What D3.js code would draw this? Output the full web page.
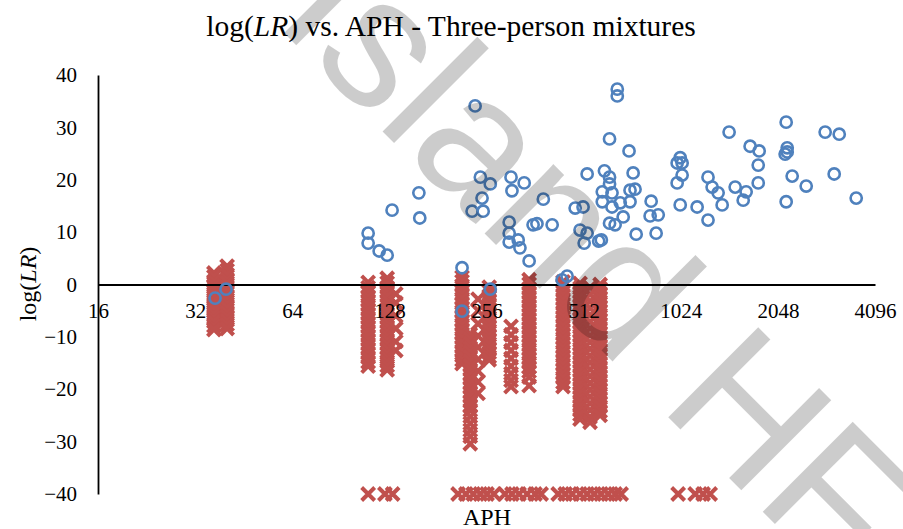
<!DOCTYPE html>
<html>
<head>
<meta charset="utf-8">
<script src="https://cdn.jsdelivr.net/npm/d3@7"></script>
<style>
  body { margin: 0; background: #fff; }
  svg { display: block; }
</style>
</head>
<body>
<svg id="chart" width="903" height="529"></svg>
<script>
// Blue circles: one log(LR) per APH
const blueAPH = [36.9, 39.9, 110, 110, 119, 126, 130.5, 158, 159, 236, 245, 263, 248, 231, 250,
  305, 307, 335, 384, 301, 301, 301, 321, 325, 347, 357, 367, 409, 482, 510, 525, 616, 708,
  651, 651, 594, 616, 616, 585, 627, 713, 739, 713, 665, 585, 627, 679, 616, 641, 581, 745,
  829, 823, 872, 859, 1020, 1034, 998, 1034, 998, 1020, 1151, 1244, 1281, 1337, 1376, 1244,
  1446, 1510, 1599, 1633, 1680, 1792, 1780, 1780, 2173, 2189, 2157, 2189, 2268, 2173, 2507,
  2870, 3173, 3061, 3582, 215, 263, 215, 439, 455, 499, 525, 514, 570, 729];
const blueLR = [-2.6, -0.9, 9.8, 7.9, 6.4, 5.6, 14.2, 17.5, 12.7, 34.1, 20.5, 19.2, 16.5, 14.0, 14.0,
  20.5, 17.9, 19.4, 16.3, 11.9, 9.8, 8.1, 8.5, 7.0, 4.5, 11.4, 11.6, 11.4, 14.6, 14.8, 21.1, 27.8, 25.5,
  37.3, 36.0, 21.7, 20.5, 19.2, 17.7, 17.5, 18.0, 18.2, 15.8, 15.6, 15.8, 14.8, 12.9, 11.7, 11.4, 8.5, 9.6,
  15.9, 13.1, 13.3, 9.8, 24.2, 23.2, 23.2, 20.9, 19.4, 15.2, 14.8, 20.5, 18.6, 17.5, 15.2, 12.3,
  29.1, 18.6, 16.1, 17.7, 26.4, 25.5, 22.8, 19.4, 31.0, 26.1, 24.9, 25.3, 20.7, 15.8, 18.8,
  29.1, 28.7, 21.1, 16.5, 3.2, -0.9, -5.1, 0.9, 1.6, 10.4, 9.8, 7.9, 8.3, 21.3];

// Red crosses: columns of log(LR) values sharing one APH
const red37 = [2.2, 1.5, 0.6, -0.2, -1.0, -1.8, -2.5, -3.3, -4.1, -4.8, -5.6, -6.4, -7.1, -7.9, -8.6];
const red40 = [3.5, 2.7, 1.9, 1.0, 0.3, -0.5, -1.3, -2.2, -2.9, -3.7, -4.4, -5.3, -6.1, -6.8, -7.6, -8.4];
const red110 = [0.4, -0.6, -1.4, -2.3, -3.1, -3.9, -4.8, -5.6, -6.4, -7.3, -8.1, -8.9, -9.8, -10.6,
  -11.4, -12.3, -13.1, -13.9, -14.8, -15.6];
const red126 = [1.2, 0.3, -0.6, -1.4, -2.2, -3.1, -3.9, -4.7, -5.6, -6.4, -7.2, -8.1, -8.9, -9.7,
  -10.6, -11.4, -12.2, -13.1, -13.9, -14.7, -15.5, -16.3];
const red134 = [-1.8, -3.5, -6.0, -8.4, -10.9, -12.6];
const red215 = [1.4, 0.6, -0.2, -1.1, -1.9, -2.7, -3.6, -4.4, -5.2, -6.1, -6.9, -7.7, -8.6, -9.4,
  -10.2, -11.1, -11.9, -12.7, -13.6, -14.4, -15.1];
const red228 = [-9.5, -10.4, -11.2, -12.1, -12.9, -13.8, -14.6, -15.5, -16.3, -17.2, -18.0, -18.9,
  -19.7, -20.6, -21.4, -22.3, -23.1, -24.0, -25.2, -26.5, -27.8, -29.0, -30.4];
const red241 = [-2.8, -5.0, -7.5, -9.8, -12.0, -14.3, -16.5, -18.6, -20.8];
const red261 = [-0.5, -1.3, -2.2, -3.0, -3.8, -4.7, -5.5, -6.3, -7.2, -8.0, -8.8, -9.7, -10.5,
  -11.3, -12.2, -13.0, -13.8, -14.4];
const red305 = [-8.0, -9.6, -11.1, -12.6, -14.1, -15.6, -17.0, -18.3, -19.5];
const red347 = [0.9, 0.1, -0.8, -1.6, -2.4, -3.3, -4.1, -4.9, -5.8, -6.6, -7.4, -8.3, -9.1, -9.9,
  -10.8, -11.6, -12.4, -13.3, -14.1, -14.9, -15.8, -16.6, -17.7, -19.3];
const red442 = [0.5, -0.3, -1.2, -2.0, -2.8, -3.7, -4.5, -5.3, -6.2, -7.0, -7.8, -8.7, -9.5, -10.3,
  -11.2, -12.0, -12.8, -13.7, -14.5, -15.3, -16.2, -17.0, -17.8, -18.7, -19.5];
const red499 = [0.2, -0.7, -1.5, -2.3, -3.2, -4.0, -4.8, -5.7, -6.5, -7.3, -8.2, -9.0, -9.8, -10.7,
  -11.5, -12.3, -13.2, -14.0, -14.8, -15.7, -16.5, -17.3, -18.2, -19.0, -19.8, -20.7, -21.5,
  -22.3, -23.2, -24.0, -24.8, -25.7];
const red536 = [-0.6, -1.9, -3.2, -4.5, -5.8, -7.1, -8.4, -9.7, -11.0, -12.3, -13.6, -14.9, -16.2,
  -17.5, -18.8, -20.1, -21.4, -22.7, -24.0, -25.3, -26.3];
const red576 = [0.0, -0.8, -1.7, -2.5, -3.3, -4.2, -5.0, -5.8, -6.7, -7.5, -8.3, -9.2, -10.0, -10.8,
  -11.7, -12.5, -13.3, -14.2, -15.0, -15.8, -16.7, -17.5, -18.3, -19.2, -20.0, -20.8, -21.7,
  -22.5, -23.3, -24.2, -25.0];
// Red crosses sitting on the -40 floor
const redFloorAPH = [110, 124, 131, 209, 221, 233, 245, 257, 270, 292, 307, 323, 342, 362, 378,
  427, 449, 472, 499, 525, 552, 580, 610, 641, 669, 1005, 1135, 1201, 1263];
const floorLR = -40;

const xTicks = [16, 32, 64, 128, 256, 512, 1024, 2048, 4096];
const yTicks = [-40, -30, -20, -10, 0, 10, 20, 30, 40];

const redColumns = [
  [36.6, red37], [40.2, red40], [110, red110], [126, red126], [134, red134],
  [215, red215], [228, red228], [241, red241], [261, red261], [305, red305],
  [347, red347], [442, red442], [499, red499], [536, red536], [576, red576]
];
const redPoints = [];
redColumns.forEach(([aph, vals]) => vals.forEach(v => redPoints.push({ aph: aph, lr: v })));
redFloorAPH.forEach(aph => redPoints.push({ aph: aph, lr: floorLR }));
const bluePoints = blueAPH.map((a, i) => ({ aph: a, lr: blueLR[i] }));

const svg = d3.select("#chart");
const serif = "'Liberation Serif', 'Times New Roman', serif";

const x = d3.scaleLog().base(2).domain([16, 4096]).range([98, 875]);
const y = d3.scaleLinear().domain([-40, 40]).range([494, 75]);

// Title
const title = svg.append("text")
    .attr("x", 451).attr("y", 36)
    .attr("text-anchor", "middle")
    .style("font-family", serif).style("font-size", "29.5px").attr("fill", "#000");
title.append("tspan").text("log(");
title.append("tspan").style("font-style", "italic").text("LR");
title.append("tspan").text(") vs. APH - Three-person mixtures");

// Red crosses
const s = 6.5;
svg.append("g").selectAll("path")
    .data(redPoints)
    .enter().append("path")
    .attr("transform", d => `translate(${x(d.aph)},${y(d.lr)})`)
    .attr("d", `M${-s},${-s}L${s},${s}M${-s},${s}L${s},${-s}`)
    .attr("stroke", "#c0504d")
    .attr("stroke-width", 4)
    .attr("fill", "none");

// Y axis
const yAxis = svg.append("g")
    .attr("transform", "translate(98,0)")
    .call(d3.axisLeft(y).tickValues(yTicks).tickSize(0).tickPadding(21));
yAxis.select(".domain").attr("stroke", "#000").attr("stroke-width", 1.8);
yAxis.selectAll("text").style("font-family", serif).style("font-size", "21px").attr("fill", "#000");

// X axis crossing at log(LR) = 0, drawn over the crosses
const xAxis = svg.append("g")
    .attr("transform", `translate(0,${y(0)})`)
    .call(d3.axisBottom(x).tickValues(xTicks).tickFormat(d3.format("d")).tickSize(0).tickPadding(19));
xAxis.select(".domain").attr("stroke", "#000").attr("stroke-width", 1.8);
xAxis.selectAll("text").style("font-family", serif).style("font-size", "21px").attr("fill", "#000");

// Blue circles on top
svg.append("g").selectAll("circle")
    .data(bluePoints)
    .enter().append("circle")
    .attr("cx", d => x(d.aph))
    .attr("cy", d => y(d.lr))
    .attr("r", 5.6)
    .attr("fill", "none")
    .attr("stroke", "#4f81bd")
    .attr("stroke-width", 2.6);

// Axis titles
const yTitle = svg.append("text")
    .attr("transform", "translate(36,284) rotate(-90)")
    .attr("text-anchor", "middle")
    .style("font-family", serif).style("font-size", "24px").attr("fill", "#000");
yTitle.append("tspan").text("log(");
yTitle.append("tspan").style("font-style", "italic").text("LR");
yTitle.append("tspan").text(")");

svg.append("text")
    .attr("x", 487).attr("y", 525)
    .attr("text-anchor", "middle")
    .style("font-family", serif).style("font-size", "24px").attr("fill", "#000")
    .text("APH");

// Watermark over the chart
svg.append("text")
    .attr("transform", "translate(272,21) rotate(45)")
    .style("font-family", "'Liberation Sans', Arial, sans-serif")
    .style("font-size", "185px")
    .attr("fill", "#000")
    .attr("fill-opacity", 0.2)
    .text("Island HF");
</script>
</body>
</html>
